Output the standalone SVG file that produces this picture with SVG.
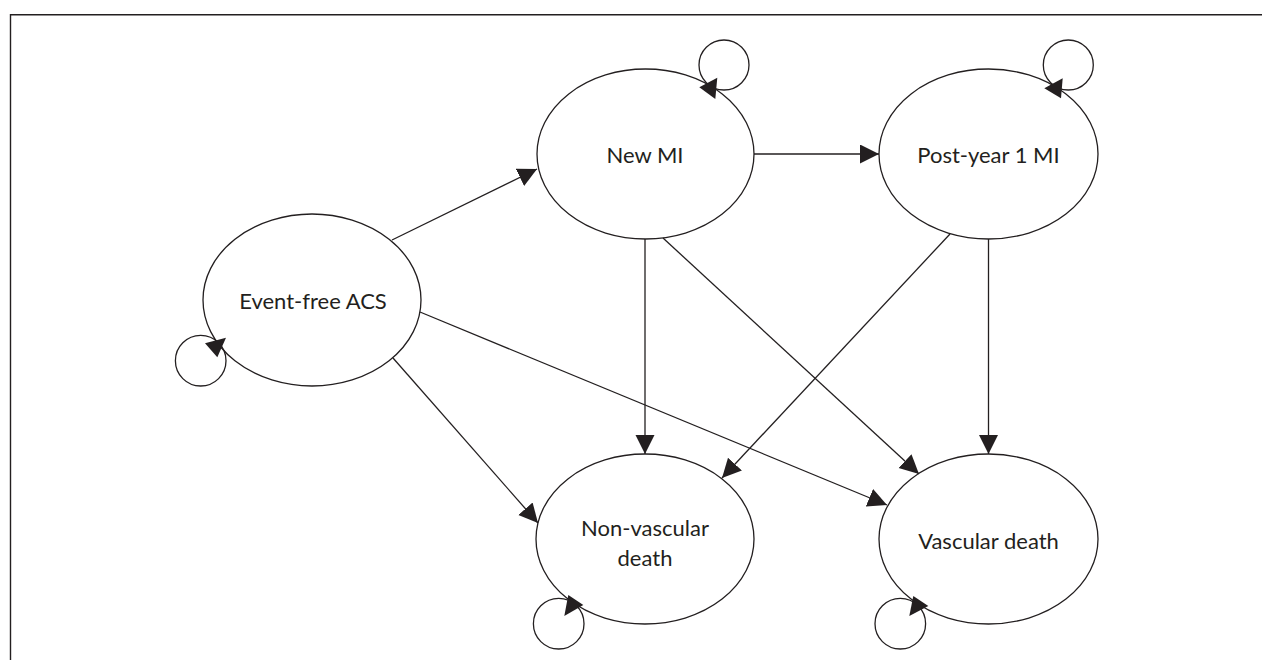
<svg xmlns="http://www.w3.org/2000/svg" width="1262" height="660" viewBox="0 0 1262 660">
  <style>
    .frame { fill: none; stroke: #231f20; stroke-width: 1.4; }
    .state { fill: #ffffff; stroke: #231f20; stroke-width: 1.3; }
    .label { font-family: Lato, "Open Sans", "Liberation Sans", sans-serif; font-size: 22px; fill: #231f20; text-anchor: middle; }
    .edge { fill: none; stroke: #231f20; stroke-width: 1.3; marker-end: url(#arrow); }
    .loop { fill: none; stroke: #231f20; stroke-width: 1.3; }
    .head { fill: #231f20; stroke: none; }
  </style>
  <defs>
    <marker id="arrow" markerUnits="userSpaceOnUse" markerWidth="20" markerHeight="20" refX="19" refY="9.5" orient="auto">
      <path d="M0,0 L19,9.5 L0,19 Z" fill="#231f20"/>
    </marker>
  </defs>

  <rect width="1262" height="660" fill="#ffffff"/>
  <!-- panel frame (open to the right and bottom) -->
  <path class="frame" d="M10.5,660 V14.7 H1262"/>

  <!-- states -->
  <g id="event-free-acs">
    <ellipse class="state" cx="312" cy="300" rx="109" ry="86"/>
    <text class="label" x="313" y="309">Event-free ACS</text>
  </g>
  <g id="new-mi">
    <ellipse class="state" cx="645.5" cy="154" rx="108.5" ry="85"/>
    <text class="label" x="645" y="163">New MI</text>
  </g>
  <g id="post-year-1-mi">
    <ellipse class="state" cx="988.5" cy="154" rx="109.5" ry="85"/>
    <text class="label" x="988.5" y="163">Post-year 1 MI</text>
  </g>
  <g id="non-vascular-death">
    <ellipse class="state" cx="645" cy="539" rx="109" ry="85"/>
    <text class="label" x="645" y="536">Non-vascular</text>
    <text class="label" x="645" y="566">death</text>
  </g>
  <g id="vascular-death">
    <ellipse class="state" cx="988.5" cy="539" rx="109.5" ry="85"/>
    <text class="label" x="988.5" y="549">Vascular death</text>
  </g>

  <!-- transitions -->
  <g id="connectors">
    <line class="edge" x1="392" y1="240" x2="537" y2="169"/>
    <line class="edge" x1="393" y1="358" x2="538" y2="523"/>
    <line class="edge" x1="420" y1="312" x2="887" y2="505"/>
    <line class="edge" x1="754" y1="154" x2="879" y2="154"/>
    <line class="edge" x1="645" y1="239" x2="645" y2="454"/>
    <line class="edge" x1="663" y1="238" x2="919" y2="474"/>
    <line class="edge" x1="950" y1="234" x2="722" y2="478"/>
    <line class="edge" x1="988.5" y1="239" x2="988.5" y2="454"/>

    <!-- self transitions -->
    <circle class="loop" cx="724" cy="65" r="25"/>
    <polygon class="head" points="699.3,87.3 717.3,77.7 715.3,99"/>
    <circle class="loop" cx="1068.3" cy="65" r="25"/>
    <polygon class="head" points="1044.3,88.3 1062.7,78.3 1061,98.3"/>
    <circle class="loop" cx="200.7" cy="360.7" r="25.3"/>
    <polygon class="head" points="205,343.3 226,337.7 217.3,357.3"/>
    <circle class="loop" cx="558.7" cy="623.7" r="25.3"/>
    <polygon class="head" points="568.3,595 583.3,605 564.3,616"/>
    <circle class="loop" cx="900.3" cy="623.7" r="25.3"/>
    <polygon class="head" points="913.3,596 928.3,606 909.3,616"/>
  </g>
</svg>
